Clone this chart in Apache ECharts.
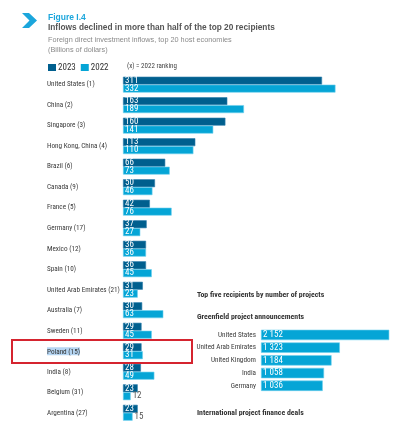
<!DOCTYPE html>
<html>
<head>
<meta charset="utf-8">
<script src="https://cdn.jsdelivr.net/npm/echarts/dist/echarts.min.js"></script>
<style>
  html, body { margin: 0; padding: 0; background: #fff; }
  #chart { width: 420px; height: 423px; }
</style>
</head>
<body>
<div id="chart"></div>
<script>
// 20 大 FDI 流入经济体（截图只到第 17 行）
const categories = ['United States (1)', 'China (2)', 'Singapore (3)', 'Hong Kong, China (4)', 'Brazil (6)',
    'Canada (9)', 'France (5)', 'Germany (17)', 'Mexico (12)', 'Spain (10)', 'United Arab Emirates (21)',
    'Australia (7)', 'Sweden (11)', 'Poland (15)', 'India (8)', 'Belgium (31)', 'Argentina (27)'];
const fdi2023 = [311, 163, 160, 113, 66, 50, 42, 37, 36, 36, 31, 30, 29, 29, 28, 23, 23];
const fdi2022 = [332, 189, 141, 110, 73, 46, 76, 27, 36, 45, 23, 63, 45, 31, 49, 12, 15];
const highlighted = 'Poland (15)';

// 右下角小图：绿地项目
const gfCountries = ['United States', 'United Arab Emirates', 'United Kingdom', 'India', 'Germany'];
const gfProjects = [2152, 1323, 1184, 1058, 1036];

const DARK = '#005f8e';
const CYAN = '#05a5d6';
const COND = '"Roboto Condensed", "Liberation Sans", Arial, sans-serif';
const SANS = '"Liberation Sans", Arial, sans-serif';

const thousands = v => String(v).replace(/\B(?=(\d{3})+(?!\d))/g, ' ');

// 数值太小放不进柱子时放到右边
const barItems = (values) => values.map(v => {
    if (v >= 20) return v;
    return { value: v, label: { position: 'right', color: '#555', distance: 2 } };
});

const barLabel = {
    show: true,
    position: 'insideLeft',
    distance: 2,
    color: '#fff',
    fontFamily: COND,
    fontSize: 9,
};

const heading = (text, left, top, size, color, weight, family) => ({
    text, left, top,
    textStyle: { color, fontSize: size, fontWeight: weight, fontFamily: family },
});

const opts = {
    animation: false,
    textStyle: { fontFamily: COND },
    title: [
        heading('Figure I.4', 43, 8, 8.5, '#1ba6dc', 'bold', SANS),
        heading('Inflows declined in more than half of the top 20 recipients', 43, 19, 8.3, '#555', 'bold', SANS),
        heading('Foreign direct investment inflows, top 20 host economies', 43, 31, 7.3, '#8a8a8a', 'normal', SANS),
        heading('(Billions of dollars)', 43, 41, 7.3, '#8a8a8a', 'normal', SANS),
        heading('(x) = 2022 ranking', 122, 58, 7, '#444', 'normal', COND),
        heading('Top five recipients by number of projects', 192, 286, 7.8, '#333', 'bold', COND),
        heading('Greenfield project announcements', 192, 308, 7.8, '#333', 'bold', COND),
        heading('International project finance deals', 192, 404, 7.8, '#333', 'bold', COND),
    ],
    legend: {
        data: ['2023', '2022'],
        left: 43,
        top: 58,
        itemWidth: 8,
        itemHeight: 7,
        itemGap: 5,
        icon: 'rect',
        selectedMode: false,
        itemStyle: { borderWidth: 0 },
        textStyle: { color: '#333', fontSize: 9, fontFamily: COND, padding: [0, 0, 0, -3] },
    },
    grid: [
        { left: 123, top: 74.4, width: 256, height: 351, containLabel: false },
        { left: 261, top: 328.6, width: 149, height: 63.5, containLabel: false },
    ],
    xAxis: [
        { gridIndex: 0, type: 'value', min: 0, max: 400, show: false },
        { gridIndex: 1, type: 'value', min: 0, max: 2500, show: false },
    ],
    yAxis: [
        {
            gridIndex: 0,
            type: 'category',
            data: categories,
            inverse: true,
            axisLine: { show: false },
            axisTick: { show: false },
            axisLabel: {
                align: 'left',
                margin: 76,
                color: '#3a3a3a',
                fontSize: 7.2,
                fontFamily: COND,
                formatter: (value) => value === highlighted ? `{hl|${value}}` : value,
                rich: {
                    hl: { backgroundColor: '#b5d5f2', color: '#333', fontSize: 7.2, fontFamily: COND, padding: [1, 0, 0, 0] },
                },
            },
        },
        {
            gridIndex: 1,
            type: 'category',
            data: gfCountries,
            inverse: true,
            axisLine: { show: false },
            axisTick: { show: false },
            axisLabel: { margin: 5, color: '#3a3a3a', fontSize: 7.2, fontFamily: COND },
        },
    ],
    series: [
        {
            name: '2023',
            type: 'bar',
            xAxisIndex: 0,
            yAxisIndex: 0,
            data: barItems(fdi2023),
            barGap: '0%',
            barCategoryGap: '22.5%',
            itemStyle: { color: DARK, borderColor: '#2f80ad', borderWidth: 0.6 },
            label: barLabel,
        },
        {
            name: '2022',
            type: 'bar',
            xAxisIndex: 0,
            yAxisIndex: 0,
            data: barItems(fdi2022),
            itemStyle: { color: CYAN, borderColor: '#6fd0ee', borderWidth: 0.6 },
            label: barLabel,
        },
        {
            name: 'Greenfield',
            type: 'bar',
            xAxisIndex: 1,
            yAxisIndex: 1,
            data: gfProjects,
            barCategoryGap: '18%',
            itemStyle: { color: CYAN, borderColor: '#6fd0ee', borderWidth: 0.6 },
            label: { ...barLabel, formatter: p => thousands(p.value) },
        },
    ],
    graphic: [
        {
            type: 'polygon',
            shape: { points: [[22, 13], [29, 13], [37, 20.5], [29, 28], [22, 28], [29.5, 20.5]] },
            style: { fill: '#1ba6dc' },
        },
        {
            type: 'rect',
            shape: { x: 12, y: 340, width: 180, height: 23 },
            style: { fill: 'none', stroke: '#d5242f', lineWidth: 2 },
            z: 10,
        },
    ],
};

const chart = echarts.init(document.getElementById('chart'), null, { renderer: 'canvas' });
chart.setOption(opts);
</script>
</body>
</html>
